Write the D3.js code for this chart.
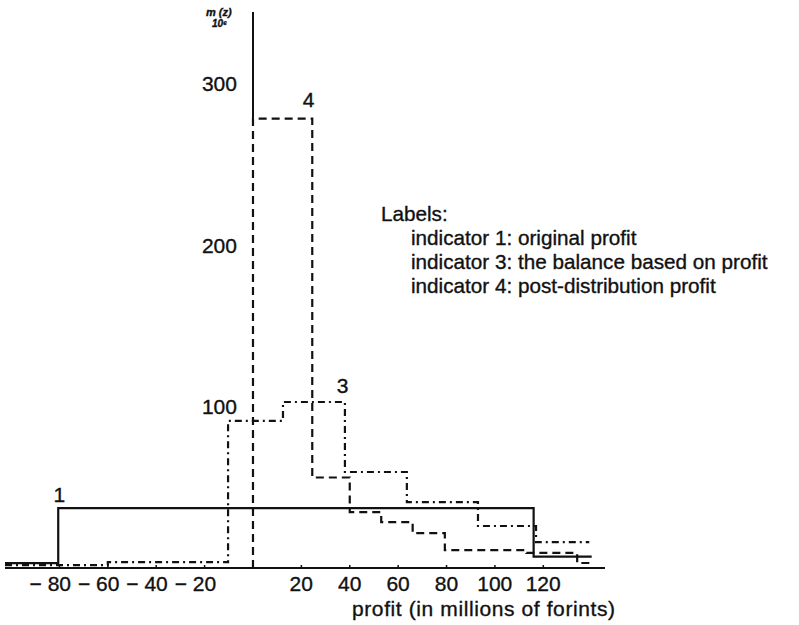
<!DOCTYPE html>
<html>
<head>
<meta charset="utf-8">
<script src="https://cdn.jsdelivr.net/npm/d3@7"></script>
<style>
  body { margin: 0; background: #fff; }
  svg { display: block; }
  text { font-family: "Liberation Sans", Arial, Helvetica, sans-serif; fill: #111; stroke: #111; stroke-width: 0.35px; }
</style>
</head>
<body>
<svg id="chart" width="799" height="625"></svg>
<script>
// step edges (profit, millions of forints) and the level held after each edge
var xDomain = [-102.5, 145.5];
var yDomain = [0, 344];

var curve1Edges = [-102.5, -80.5, 116, 140];
var curve1Values = [3, 37, 7, 7];

var curve3Edges = [-102.5, -60, -10.3, 12.4, 38, 63.6, 93, 117, 139];
var curve3Values = [1.8, 3.6, 91, 102.7, 59.4, 40.8, 26, 16, 16];

var curve4Edges = [0, 0, 24.5, 40, 53, 66, 79.3, 113, 134, 140];
var curve4Values = [0, 278, 56, 34.6, 28.4, 21.6, 11.1, 9.3, 3.1, 3.1];

var xTicks = [-80, -60, -40, -20, 20, 40, 60, 80, 100, 120];
var yTicks = [100, 200, 300];

var curveLabels = [
  { text: '1', x: -80, y: 41 },
  { text: '4', x: 23, y: 285 },
  { text: '3', x: 37, y: 108 }
];

var legendLines = [
  'indicator 1: original profit',
  'indicator 3: the balance based on profit',
  'indicator 4: post-distribution profit'
];

var svg = d3.select('#chart');

var x = d3.scaleLinear().domain(xDomain).range([5, 605]);
var y = d3.scaleLinear().domain(yDomain).range([568, 12]);

var toPoints = function(edges, values) {
  return edges.map(function(e, i) { return [e, values[i]]; });
};

var line = d3.line()
  .x(function(d) { return x(d[0]); })
  .y(function(d) { return y(d[1]); })
  .curve(d3.curveStepAfter);

// x axis baseline
svg.append('line')
  .attr('x1', x(xDomain[0])).attr('x2', x(xDomain[1]))
  .attr('y1', y(0)).attr('y2', y(0))
  .style('stroke', '#111').style('stroke-width', 2);

// y axis: solid only above the peak of curve 4, the dashed edge covers the rest
svg.append('line')
  .attr('x1', x(0)).attr('x2', x(0))
  .attr('y1', y(yDomain[1])).attr('y2', y(d3.max(curve4Values)))
  .style('stroke', '#111').style('stroke-width', 2);

// small tick marks on the baseline
svg.selectAll('.xtick')
  .data(xTicks)
  .enter().append('line')
  .attr('x1', function(d) { return x(d); }).attr('x2', function(d) { return x(d); })
  .attr('y1', y(0) - 3).attr('y2', y(0) + 1)
  .style('stroke', '#111').style('stroke-width', 1.5);

svg.selectAll('.xlabel')
  .data(xTicks)
  .enter().append('text')
  .attr('x', function(d) { return x(d) + String(Math.abs(d)).length * 5.8; })
  .attr('y', 591)
  .attr('text-anchor', 'end')
  .style('font-size', '21px')
  .text(function(d) { return d < 0 ? '\u2212 ' + Math.abs(d) : String(d); });

svg.selectAll('.ylabel')
  .data(yTicks)
  .enter().append('text')
  .attr('x', x(0) - 16)
  .attr('y', function(d) { return y(d) + 8; })
  .attr('text-anchor', 'end')
  .style('font-size', '21px')
  .text(function(d) { return d; });

// y axis unit, written small above the axis
svg.append('text')
  .attr('x', 206).attr('y', 16)
  .style('font-size', '11px').style('font-style', 'italic').style('font-weight', 'bold')
  .text('m (z)');
svg.append('text')
  .attr('x', 212).attr('y', 27)
  .style('font-size', '10px').style('font-style', 'italic').style('font-weight', 'bold')
  .text('10\u2076');

svg.append('text')
  .attr('x', 352).attr('y', 616)
  .style('font-size', '21px').style('letter-spacing', '0.6px')
  .text('profit (in millions of forints)');

// the three indicators
svg.append('path')
  .datum(toPoints(curve1Edges, curve1Values))
  .attr('d', line)
  .style('fill', 'none').style('stroke', '#111').style('stroke-width', 2.2);

svg.append('path')
  .datum(toPoints(curve3Edges, curve3Values))
  .attr('d', line)
  .style('fill', 'none').style('stroke', '#111').style('stroke-width', 2.2)
  .style('stroke-dasharray', '7,4,2,4');

svg.append('path')
  .datum(toPoints(curve4Edges, curve4Values))
  .attr('d', line)
  .style('fill', 'none').style('stroke', '#111').style('stroke-width', 2.2)
  .style('stroke-dasharray', '8,5');

svg.selectAll('.clabel')
  .data(curveLabels)
  .enter().append('text')
  .attr('x', function(d) { return x(d.x); })
  .attr('y', function(d) { return y(d.y); })
  .attr('text-anchor', 'middle')
  .style('font-size', '21px')
  .text(function(d) { return d.text; });

// legend
svg.append('text')
  .attr('x', 381).attr('y', 221)
  .style('font-size', '20.7px')
  .text('Labels:');

svg.selectAll('.legend')
  .data(legendLines)
  .enter().append('text')
  .attr('x', 411)
  .attr('y', function(d, i) { return 245 + i * 24; })
  .style('font-size', '20.7px')
  .text(function(d) { return d; });
</script>
</body>
</html>
